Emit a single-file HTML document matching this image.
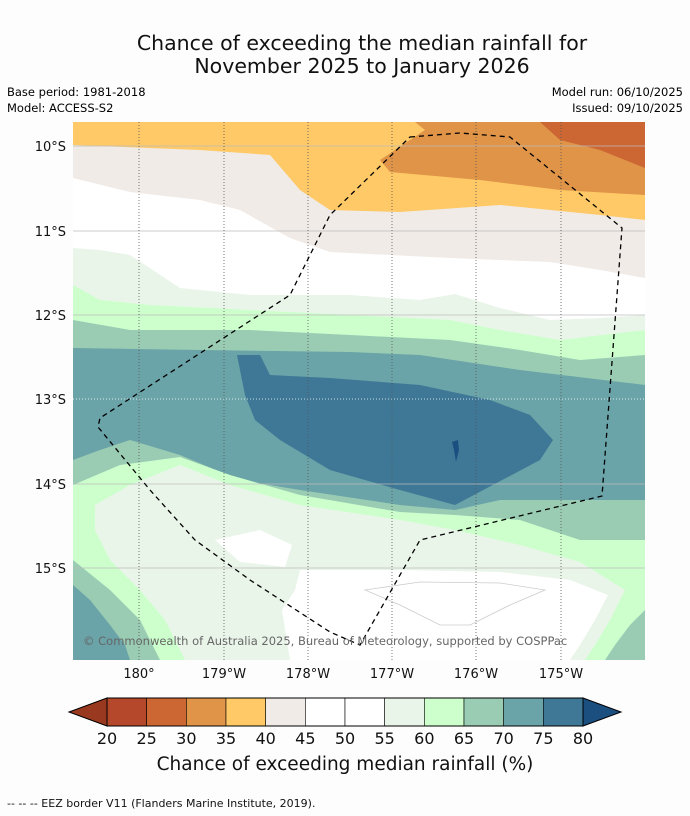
<!DOCTYPE html>
<html><head><meta charset="utf-8"><style>
body{margin:0;background:#fdfdfd;width:690px;height:816px;overflow:hidden;font-family:"DejaVu Sans","Liberation Sans",sans-serif}
svg{position:absolute;left:0;top:0;font-family:"DejaVu Sans","Liberation Sans",sans-serif}
</style></head><body>
<svg width="690" height="816">
<text x="362" y="50" font-size="20.5" text-anchor="middle" fill="#111">Chance of exceeding the median rainfall for</text>
<text x="362" y="73" font-size="20.5" text-anchor="middle" fill="#111">November 2025 to January 2026</text>
<text x="7" y="96" font-size="11.5">Base period: 1981-2018</text>
<text x="7" y="112" font-size="11.5">Model: ACCESS-S2</text>
<text x="683" y="96" font-size="11.5" text-anchor="end">Model run: 06/10/2025</text>
<text x="683" y="112" font-size="11.5" text-anchor="end">Issued: 09/10/2025</text>
<defs><clipPath id="mc"><rect x="73" y="122" width="572" height="538"/></clipPath></defs>
<g clip-path="url(#mc)">
<rect x="73" y="122" width="572" height="538" fill="#6aa3a8"/>
<path fill="#99ccb3" d="M73,122 L645,122 L645,385 L520,370 L420,355 L350,352 L200,350 L73,348Z"/>
<path fill="#ccffcc" d="M73,122 L645,122 L645,355 L580,360 L520,350 L450,340 L350,335 L250,330 L130,330 L73,320Z"/>
<path fill="#eaf5ea" d="M73,122 L645,122 L645,330 L560,340 L500,330 L450,320 L350,315 L250,310 L150,305 L100,300 L73,285Z"/>
<path fill="#ffffff" d="M73,122 L645,122 L645,315 L600,318 L550,320 L500,308 L455,294 L420,300 L350,295 L250,295 L180,288 L130,255 L100,250 L73,248Z"/>
<path fill="#f0ebe6" d="M73,122 L645,122 L645,278 L600,270 L550,262 L450,258 L330,252 L290,238 L240,210 L200,200 L130,192 L73,178Z"/>
<path fill="#fec966" d="M73,122 L645,122 L645,220 L600,215 L500,205 L400,212 L330,210 L300,190 L270,155 L200,150 L73,145Z"/>
<path fill="#e09448" d="M415,122 L425,130 L380,160 L390,172 L480,180 L560,190 L645,195 L645,122Z"/>
<path fill="#cc6633" d="M540,122 L560,140 L600,150 L645,168 L645,122Z"/>
<path fill="#3f7896" d="M237,355 L260,355 L270,375 L330,378 L420,385 L490,400 L530,415 L553,440 L540,460 L455,505 L400,490 L330,470 L280,440 L255,420 L245,395Z"/>
<path fill="#99ccb3" d="M73,460 L100,450 L130,440 L180,455 L240,480 L300,490 L400,505 L455,510 L500,500 L645,500 L645,660 L73,660Z"/>
<path fill="#6aa3a8" d="M73,585 L90,600 L110,625 L125,645 L130,660 L73,660Z"/>
<path fill="#ccffcc" d="M73,485 L120,465 L180,457 L230,475 L300,495 L400,512 L455,515 L520,520 L580,540 L645,540 L645,610 L630,625 L615,645 L605,660 L160,660 L140,620 L110,590 L73,560Z"/>
<path fill="#eaf5ea" d="M95,505 L130,485 L180,465 L230,485 L300,505 L400,520 L455,530 L520,545 L580,562 L625,590 L610,620 L595,645 L585,660 L185,660 L165,620 L140,590 L110,560 L95,530Z"/>
<path fill="#ffffff" d="M300,570 L400,570 L500,572 L570,580 L608,595 L595,620 L580,645 L570,660 L290,660 L282,610 L295,590Z"/>
<path fill="#ffffff" d="M215,540 L260,530 L292,545 L285,567 L240,562Z"/>
<path fill="none" stroke="#ccc" stroke-width="0.8" d="M365,590 L420,582 L500,583 L545,590 L510,605 L470,625 L440,625 L400,605Z"/>
<g stroke="#bbb" stroke-width="0.8">
<line x1="73" x2="645" y1="146" y2="146"/><line x1="73" x2="645" y1="231" y2="231"/><line x1="73" x2="645" y1="315" y2="315"/><line x1="73" x2="645" y1="399" y2="399" stroke="#fff" stroke-dasharray="1,2"/><line x1="73" x2="645" y1="484" y2="484"/><line x1="73" x2="645" y1="568" y2="568"/>
</g>
<g stroke="#555" stroke-width="0.8" stroke-dasharray="1,2">
<line x1="139" x2="139" y1="122" y2="660"/><line x1="224" x2="224" y1="122" y2="660"/><line x1="308" x2="308" y1="122" y2="660"/><line x1="392" x2="392" y1="122" y2="660"/><line x1="476" x2="476" y1="122" y2="660"/><line x1="561" x2="561" y1="122" y2="660"/>
</g>
<path fill="none" stroke="#000" stroke-width="1.3" stroke-dasharray="5,4" d="M410,137 L460,133 L510,137 L622,228 L602,496 L420,540 L360,645 L330,632 L250,580 L195,540 L150,490 L98,427 L100,418 L290,295 L330,215 Z"/>
<path fill="#1a4f80" d="M452,442 L458,440 L459,450 L456,462 L454,450Z"/>
<text x="83" y="645" font-size="11.5" fill="#666">© Commonwealth of Australia 2025, Bureau of Meteorology, supported by COSPPac</text>
</g>
<g font-size="13" fill="#111">
<text x="66" y="151" text-anchor="end">10°S</text><text x="66" y="236" text-anchor="end">11°S</text><text x="66" y="320" text-anchor="end">12°S</text><text x="66" y="404" text-anchor="end">13°S</text><text x="66" y="489" text-anchor="end">14°S</text><text x="66" y="573" text-anchor="end">15°S</text>
</g>
<g font-size="13" fill="#111" text-anchor="middle">
<text x="139" y="678">180°</text><text x="224" y="678">179°W</text><text x="308" y="678">178°W</text><text x="392" y="678">177°W</text><text x="476" y="678">176°W</text><text x="561" y="678">175°W</text>
</g>
<g id="cbar"></g>
<text x="345" y="770" font-size="18.5" text-anchor="middle" fill="#111">Chance of exceeding median rainfall (%)</text>
<text x="7" y="807" font-size="11" fill="#111">--  --  -- EEZ border V11 (Flanders Marine Institute, 2019).</text>
</svg>
<script>
const levels=[20,25,30,35,40,45,50,55,60,65,70,75,80];
const colors=["#b5482a","#cc6633","#e09448","#fec966","#f0ebe6","#ffffff","#ffffff","#eaf5ea","#ccffcc","#99ccb3","#6aa3a8","#3f7896"];
const lowColor="#99391f", highColor="#1a4f80";
const NS="http://www.w3.org/2000/svg";
const g=document.getElementById('cbar');
const x0=107,x1=583,y0=698,y1=726;
const w=(x1-x0)/colors.length;
function sx(i){return x0+i*w;}
function mk(t,a){const e=document.createElementNS(NS,t);for(const k in a)e.setAttribute(k,a[k]);g.appendChild(e);return e;}
const lt=mk('polygon',{points:`${x0},${y0} ${x0},${y1} 69,${(y0+y1)/2}`,fill:lowColor,stroke:'#000','stroke-width':1});


const rt=mk('polygon',{points:`${x1},${y0} ${x1},${y1} 621,${(y0+y1)/2}`,fill:highColor,stroke:'#000','stroke-width':1});


colors.forEach((c,i)=>{
 const r=mk('rect',{x:sx(i),y:y0,width:w,height:y1-y0,fill:c,stroke:'#000','stroke-width':0.6});
 
 
});
mk('rect',{x:x0,y:y0,width:x1-x0,height:y1-y0,fill:'none',stroke:'#000','stroke-width':1});
levels.forEach((v,i)=>{
 const t=mk('text',{x:sx(i),y:744,'font-size':16,'text-anchor':'middle',fill:'#111'});
 t.textContent=v;
 
 
});
</script>
</body></html>
